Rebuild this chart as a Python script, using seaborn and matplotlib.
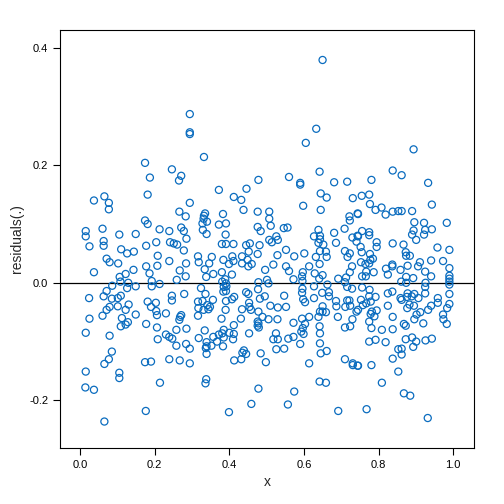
import matplotlib
matplotlib.use("Agg")
import matplotlib.pyplot as plt
import seaborn as sns
import pandas as pd

x_vals = [
0.174,0.187,0.181,0.065,0.037,0.077,0.077,0.015,0.015,0.174,0.181,0.060,0.105,0.149,0.213,0.063,0.063,0.025,0.177,0.204,
0.110,0.144,0.126,0.071,0.079,0.102,0.208,0.177,0.207,0.037,0.143,0.186,0.106,0.122,0.108,0.129,0.192,0.192,0.213,0.086,
0.126,0.149,0.071,0.024,0.063,0.085,0.109,0.101,0.181,0.203,0.190,0.071,0.079,0.101,0.130,0.122,0.204,0.060,0.149,0.206,
0.230,0.025,0.112,0.128,0.122,0.109,0.177,0.206,0.015,0.079,0.208,0.230,0.085,0.077,0.065,0.174,0.190,0.015,0.105,0.105,
0.214,0.014,0.037,0.176,0.065,
0.294,0.294,0.294,0.332,0.246,0.271,0.265,0.372,0.446,0.478,0.412,0.432,0.294,0.266,0.438,0.476,0.335,0.332,0.383,0.283,
0.331,0.340,0.328,0.391,0.372,0.271,0.476,0.329,0.239,0.278,0.484,0.339,0.390,0.285,0.241,0.251,0.260,0.380,0.391,0.411,
0.445,0.455,0.481,0.278,0.452,0.476,0.316,0.353,0.408,0.434,0.239,0.318,0.384,0.411,0.449,0.284,0.346,0.399,0.434,0.460,
0.451,0.334,0.267,0.357,0.338,0.283,0.380,0.407,0.259,0.389,0.381,0.391,0.478,0.324,0.385,0.392,0.477,0.391,0.384,0.445,
0.336,0.246,0.279,0.451,0.413,0.407,0.356,0.482,0.246,0.316,0.391,0.328,0.453,0.341,0.348,0.317,0.331,0.344,0.390,0.454,
0.458,0.434,0.478,0.316,0.271,0.268,0.266,0.379,0.431,0.476,0.478,0.489,0.285,0.258,0.334,0.385,0.372,0.381,0.400,0.412,
0.412,0.476,0.479,0.453,0.239,0.247,0.318,0.357,0.385,0.410,0.339,0.367,0.258,0.284,0.339,0.352,0.383,0.337,0.294,0.439,
0.435,0.445,0.339,0.432,0.413,0.484,0.239,0.267,0.294,0.338,0.336,0.478,0.459,0.399,
0.650,0.633,0.605,0.560,0.642,0.590,0.590,0.681,0.716,0.645,0.661,0.731,0.598,0.645,0.507,0.507,0.744,0.722,0.723,0.511,
0.546,0.556,0.709,0.639,0.681,0.526,0.507,0.627,0.643,0.643,0.730,0.744,0.530,0.514,0.639,0.652,0.686,0.741,0.552,0.643,
0.659,0.710,0.723,0.529,0.574,0.601,0.632,0.661,0.717,0.642,0.518,0.552,0.614,0.729,0.496,0.560,0.597,0.629,0.650,0.723,
0.595,0.641,0.692,0.713,0.501,0.572,0.596,0.710,0.505,0.627,0.596,0.663,0.716,0.729,0.595,0.649,0.667,0.667,0.547,0.495,
0.598,0.627,0.603,0.716,0.722,0.686,0.687,0.650,0.650,0.659,0.510,0.530,0.552,0.711,0.724,0.643,0.614,0.595,0.691,0.730,
0.741,0.639,0.505,0.529,0.572,0.603,0.597,0.642,0.710,0.724,0.593,0.599,0.643,0.525,0.518,0.530,0.558,0.572,0.590,0.643,
0.526,0.547,0.645,0.661,0.710,0.731,0.731,0.744,0.498,0.614,0.642,0.659,0.574,0.557,0.692,
0.894,0.838,0.862,0.781,0.933,0.755,0.775,0.943,0.777,0.792,0.808,0.819,0.838,0.853,0.862,0.890,0.745,0.896,0.922,0.983,
0.943,0.925,0.894,0.890,0.922,0.901,0.756,0.775,0.775,0.745,0.795,0.795,0.838,0.867,0.752,0.755,0.777,0.785,0.778,0.873,
0.874,0.884,0.958,0.990,0.753,0.765,0.775,0.837,0.837,0.878,0.906,0.911,0.941,0.973,0.820,0.859,0.925,0.990,0.825,0.767,
0.787,0.756,0.766,0.941,0.874,0.893,0.990,0.990,0.861,0.874,0.926,0.990,0.990,0.925,0.756,0.776,0.878,0.837,0.825,0.896,
0.990,0.925,0.775,0.792,0.859,0.889,0.907,0.876,0.959,0.753,0.779,0.862,0.767,0.959,0.883,0.877,0.895,0.825,0.758,0.990,
0.941,0.984,0.745,0.933,0.795,0.782,0.789,0.779,0.912,0.902,0.896,0.838,0.973,0.974,0.983,0.775,0.920,0.868,0.873,0.781,
0.809,0.838,0.775,0.792,0.819,0.873,0.890,0.901,0.893,0.926,0.943,0.853,0.862,0.862,0.838,0.745,0.781,0.853,0.809,0.868,
0.885,0.768,0.932]

residuals = [
0.204,0.179,0.150,0.147,0.140,0.136,0.125,0.088,0.079,0.106,0.100,0.092,0.082,0.083,0.091,0.071,0.063,0.062,0.063,0.069,
0.057,0.053,0.050,0.041,0.035,0.033,0.046,0.028,0.029,0.018,0.022,0.016,0.010,0.015,0.002,0.000,0.003,-0.006,-0.002,-0.005,
-0.009,-0.006,-0.014,-0.026,-0.023,-0.027,-0.022,-0.026,-0.032,-0.034,-0.041,-0.046,-0.041,-0.040,-0.037,-0.046,-0.048,-0.056,-0.054,-0.055,
-0.052,-0.061,-0.060,-0.067,-0.071,-0.074,-0.070,-0.076,-0.085,-0.090,-0.096,-0.088,-0.117,-0.130,-0.138,-0.135,-0.134,-0.151,-0.153,-0.162,
-0.170,-0.178,-0.182,-0.218,-0.236,
0.287,0.256,0.253,0.214,0.193,0.182,0.174,0.158,0.160,0.175,0.146,0.141,0.136,0.121,0.124,0.121,0.118,0.114,0.117,0.113,
0.109,0.104,0.101,0.101,0.099,0.094,0.095,0.090,0.088,0.088,0.088,0.083,0.082,0.075,0.069,0.067,0.065,0.066,0.066,0.066,
0.064,0.067,0.064,0.055,0.053,0.049,0.045,0.044,0.045,0.045,0.037,0.035,0.039,0.037,0.039,0.033,0.033,0.032,0.033,0.032,
0.028,0.023,0.021,0.015,0.010,0.011,0.018,0.014,0.005,0.006,0.002,-0.001,0.001,-0.009,-0.007,-0.006,-0.011,-0.014,-0.015,-0.016,
-0.019,-0.022,-0.019,-0.019,-0.024,-0.028,-0.029,-0.027,-0.030,-0.032,-0.031,-0.031,-0.034,-0.038,-0.041,-0.043,-0.046,-0.045,-0.046,-0.041,
-0.046,-0.045,-0.049,-0.056,-0.055,-0.058,-0.063,-0.061,-0.061,-0.066,-0.069,-0.058,-0.078,-0.080,-0.081,-0.080,-0.088,-0.086,-0.085,-0.072,
-0.087,-0.073,-0.076,-0.086,-0.092,-0.095,-0.094,-0.092,-0.093,-0.096,-0.101,-0.100,-0.107,-0.104,-0.108,-0.107,-0.108,-0.111,-0.112,-0.115,
-0.119,-0.121,-0.121,-0.130,-0.132,-0.120,-0.130,-0.132,-0.137,-0.164,-0.171,-0.180,-0.206,-0.220,
0.379,0.262,0.238,0.180,0.189,0.170,0.167,0.171,0.172,0.152,0.145,0.144,0.131,0.124,0.121,0.109,0.118,0.113,0.106,0.097,
0.093,0.094,0.092,0.090,0.085,0.079,0.073,0.079,0.080,0.074,0.077,0.080,0.073,0.069,0.068,0.065,0.068,0.070,0.056,0.054,
0.053,0.054,0.050,0.047,0.045,0.050,0.044,0.044,0.044,0.032,0.031,0.028,0.028,0.028,0.022,0.020,0.018,0.016,0.013,0.018,
0.011,0.007,0.007,0.009,0.005,0.006,0.003,0.001,-0.001,-0.006,-0.010,-0.003,-0.007,-0.010,-0.017,-0.017,-0.016,-0.023,-0.022,-0.023,
-0.028,-0.026,-0.033,-0.030,-0.030,-0.031,-0.040,-0.040,-0.049,-0.050,-0.039,-0.042,-0.041,-0.041,-0.039,-0.049,-0.058,-0.061,-0.058,-0.062,
-0.049,-0.058,-0.062,-0.062,-0.068,-0.070,-0.077,-0.074,-0.076,-0.074,-0.083,-0.087,-0.086,-0.086,-0.096,-0.096,-0.095,-0.092,-0.104,-0.103,
-0.113,-0.112,-0.120,-0.116,-0.130,-0.137,-0.140,-0.141,-0.135,-0.137,-0.168,-0.170,-0.185,-0.207,-0.218,
0.227,0.191,0.183,0.175,0.170,0.148,0.150,0.133,0.134,0.124,0.128,0.116,0.121,0.122,0.122,0.122,0.117,0.103,0.102,0.102,
0.091,0.090,0.089,0.082,0.082,0.073,0.088,0.086,0.081,0.079,0.069,0.061,0.067,0.065,0.061,0.052,0.049,0.041,0.039,0.052,
0.046,0.046,0.060,0.056,0.035,0.032,0.033,0.031,0.028,0.029,0.028,0.035,0.038,0.037,0.024,0.022,0.019,0.025,0.014,0.019,
0.018,0.011,0.011,0.011,0.010,0.008,0.012,0.007,0.002,0.000,0.000,0.002,-0.003,-0.007,-0.008,-0.012,-0.018,-0.015,-0.018,-0.019,
-0.019,-0.018,-0.023,-0.024,-0.026,-0.023,-0.026,-0.024,-0.026,-0.029,-0.032,-0.029,-0.035,-0.034,-0.037,-0.043,-0.039,-0.039,-0.038,-0.036,
-0.039,-0.043,-0.046,-0.046,-0.047,-0.049,-0.057,-0.053,-0.050,-0.054,-0.062,-0.058,-0.054,-0.062,-0.070,-0.066,-0.069,-0.070,-0.073,-0.077,
-0.080,-0.079,-0.100,-0.097,-0.101,-0.096,-0.093,-0.100,-0.109,-0.098,-0.095,-0.113,-0.112,-0.122,-0.129,-0.141,-0.140,-0.151,-0.170,-0.188,
-0.192,-0.215,-0.230]

n = min(len(x_vals), len(residuals))
df = pd.DataFrame({"x": x_vals[:n], "residuals": residuals[:n]})

sns.set_style("white")
plt.rcParams['font.family'] = ['Liberation Sans', 'DejaVu Sans']
fig = plt.figure(figsize=(5.04, 5.04), dpi=100)
ax = fig.add_axes([60/504, 56/504, 414/504, 418/504])
ax.axhline(0, color="black", lw=0.9, zorder=1)
sns.scatterplot(data=df, x="x", y="residuals", ax=ax, facecolor="none",
                edgecolor="#0a6cbf", linewidth=0.9, s=26, marker="o", zorder=2)
ax.set_xlim(-0.054, 1.056)
ax.set_ylim(-0.281, 0.430)
ax.set_xticks([0.0, 0.2, 0.4, 0.6, 0.8, 1.0])
ax.set_yticks([-0.2, 0.0, 0.2, 0.4])
ax.set_xticklabels(["0.0", "0.2", "0.4", "0.6", "0.8", "1.0"])
ax.set_yticklabels(["-0.2", "0.0", "0.2", "0.4"])
for s in ax.spines.values():
    s.set_color("black"); s.set_linewidth(0.8); s.set_visible(True)
ax.tick_params(axis="both", direction="out", length=5, width=0.8, labelsize=8,
               colors="black", bottom=True, left=True, top=False, right=False)
ax.set_xlabel("x", fontsize=10)
ax.set_ylabel("residuals(.)", fontsize=10)
fig.savefig("out.png", dpi=100)
